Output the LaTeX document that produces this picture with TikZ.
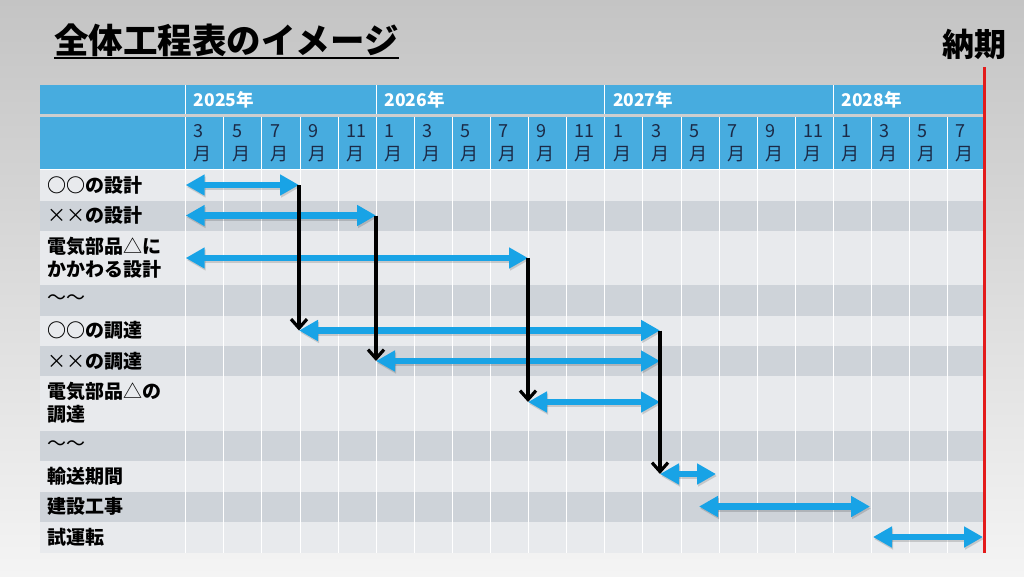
\documentclass[tikz,border=0pt]{standalone}
\usepackage{fontspec}
\setmainfont{Noto Sans CJK JP}
\usetikzlibrary{arrows.meta}
\definecolor{bgtop}{HTML}{C4C4C4}
\definecolor{bgbot}{HTML}{F4F4F4}
\definecolor{hdrblue}{HTML}{47ACDF}
\definecolor{rowlight}{HTML}{E8EAED}
\definecolor{rowdark}{HTML}{CED3D9}
\definecolor{arrowblue}{HTML}{18A3E6}
\definecolor{monthtext}{HTML}{1B2A47}
\definecolor{deadline}{HTML}{E31B1B}
\newcommand{\thin}[1]{{\mdseries #1}}
\tikzset{
  gridline/.style={draw=white, line width=1pt},
  yeartext/.style={anchor=west, inner sep=0pt, text=white, font=\bfseries\fontsize{17.5}{17.5}\selectfont},
  monthnum/.style={anchor=west, inner sep=0pt, text=monthtext, font=\fontsize{18}{18}\selectfont},
  lbl/.style={anchor=west, inner sep=0pt, align=left, text=black, font=\bfseries\fontsize{19}{23}\selectfont},
  barrow/.style={draw=arrowblue, line width=6.5pt, {Triangle[length=19pt,width=20pt]}-{Triangle[length=19pt,width=20pt]}},
  bshadow/.style={draw=black, opacity=0.15, line width=6.5pt, {Triangle[length=19pt,width=20pt]}-{Triangle[length=19pt,width=20pt]}},
  karrow/.style={draw=black, line width=3.2pt, -{Straight Barb[length=9pt,width=16pt]}},
  redline/.style={draw=deadline, line width=3.6pt},
}
\begin{document}
\begin{tikzpicture}[x=1pt,y=-1pt]
\useasboundingbox (0,0) rectangle (1024,576);
\shade[top color=bgtop, bottom color=bgbot] (0,0) rectangle (1024,576);

% title
\node[anchor=base west, inner sep=0pt, font=\bfseries\fontsize{34.5}{34.5}\selectfont] (title) at (54,53) {全体工程表のイメージ};
\draw[line width=2pt] ([yshift=-4.5pt]title.base west) -- ([yshift=-4.5pt]title.base east);
\node[anchor=base, inner sep=0pt, font=\bfseries\fontsize{32}{32}\selectfont] (noki) at (974,56) {納期};

% header
\fill[hdrblue] (39.5,85) rectangle (985.8,113.5);
\fill[hdrblue] (39.5,117) rectangle (985.8,169);

% body rows
\foreach \ya/\yb/\c in {169/200.5/rowlight, 200.5/230.5/rowdark, 230.5/285/rowlight, 285/315.5/rowdark, 315.5/346/rowlight, 346/376/rowdark, 376/430.5/rowlight, 430.5/461/rowdark, 461/491.5/rowlight, 491.5/522/rowdark, 522/552.5/rowlight}
  \fill[\c] (39.5,\ya) rectangle (985.8,\yb);

% grid lines
\foreach \i in {0,...,20}
  \draw[gridline] (185.7+\i*38.1,117) -- (185.7+\i*38.1,552.5);
\foreach \i in {0,5,11,17}
  \draw[gridline] (185.7+\i*38.1,85) -- (185.7+\i*38.1,113.5);
\draw[gridline] (39.5,169) -- (985.8,169);

% years
\foreach \yr/\i in {2025/0, 2026/5, 2027/11, 2028/17}
  \node[yeartext] (yr\yr) at (185.7+\i*38.1+8,100) {\yr 年};

% months
\foreach \m [count=\i from 0] in {3,5,7,9,11,1,3,5,7,9,11,1,3,5,7,9,11,1,3,5,7} {
  \node[monthnum] (mn\i) at (185.7+\i*38.1+8,131.5) {\m};
  \node[monthnum] (mg\i) at (185.7+\i*38.1+8,154.5) {月};
}

% row labels
\node[lbl] (r1) at (47,185) {○○の設計};
\node[lbl] (r2) at (47,215.5) {\makebox[1em]{\thin{×}}\makebox[1em]{\thin{×}}の設計};
\node[lbl] (r3) at (47,257.5) {電気部品\thin{△}に\\かかわる設計};
\node[lbl] (r4) at (47,300) {\thin{〜〜}};
\node[lbl] (r5) at (47,330.5) {○○の調達};
\node[lbl] (r6) at (47,361) {\makebox[1em]{\thin{×}}\makebox[1em]{\thin{×}}の調達};
\node[lbl] (r7) at (47,403) {電気部品\thin{△}の\\調達};
\node[lbl] (r8) at (47,445.5) {\thin{〜〜}};
\node[lbl] (r9) at (47,476) {輸送期間};
\node[lbl] (r10) at (47,506.5) {建設工事};
\node[lbl] (r11) at (47,537) {試運転};

% arrow end points
\coordinate (aL1) at (185.7,185);   \coordinate (aR1) at (299,185);
\coordinate (aL2) at (185.7,215.5); \coordinate (aR2) at (376,215.5);
\coordinate (aL3) at (185.7,258);   \coordinate (aR3) at (528,258);
\coordinate (aL5) at (299,330.5);   \coordinate (aR5) at (660,330.5);
\coordinate (aL6) at (376,361);     \coordinate (aR6) at (660,361);
\coordinate (aL7) at (528,402);     \coordinate (aR7) at (660,402);
\coordinate (aL9) at (660,474);     \coordinate (aR9) at (716,474);
\coordinate (aL10) at (699,506.5);  \coordinate (aR10) at (870,506.5);
\coordinate (aL11) at (873,537);    \coordinate (aR11) at (983,537);

\foreach \n in {1,2,3,5,6,7,9,10,11}
  \draw[bshadow] ([shift={(1,2)}]aL\n) -- ([shift={(1,2)}]aR\n);
\foreach \n in {1,2,3,5,6,7,9,10,11}
  \draw[barrow] (aL\n) -- (aR\n);

% dependencies
\draw[karrow] (aR1) -- (aL5);
\draw[karrow] (aR2) -- (aL6);
\draw[karrow] (aR3) -- (aL7);
\draw[karrow] (aR5) -- (aL9);

% deadline line
\coordinate (dTop) at (984.5,67);
\coordinate (dBot) at (984.5,553);
\draw[redline] (dTop) -- (dBot);
\end{tikzpicture}
\end{document}
